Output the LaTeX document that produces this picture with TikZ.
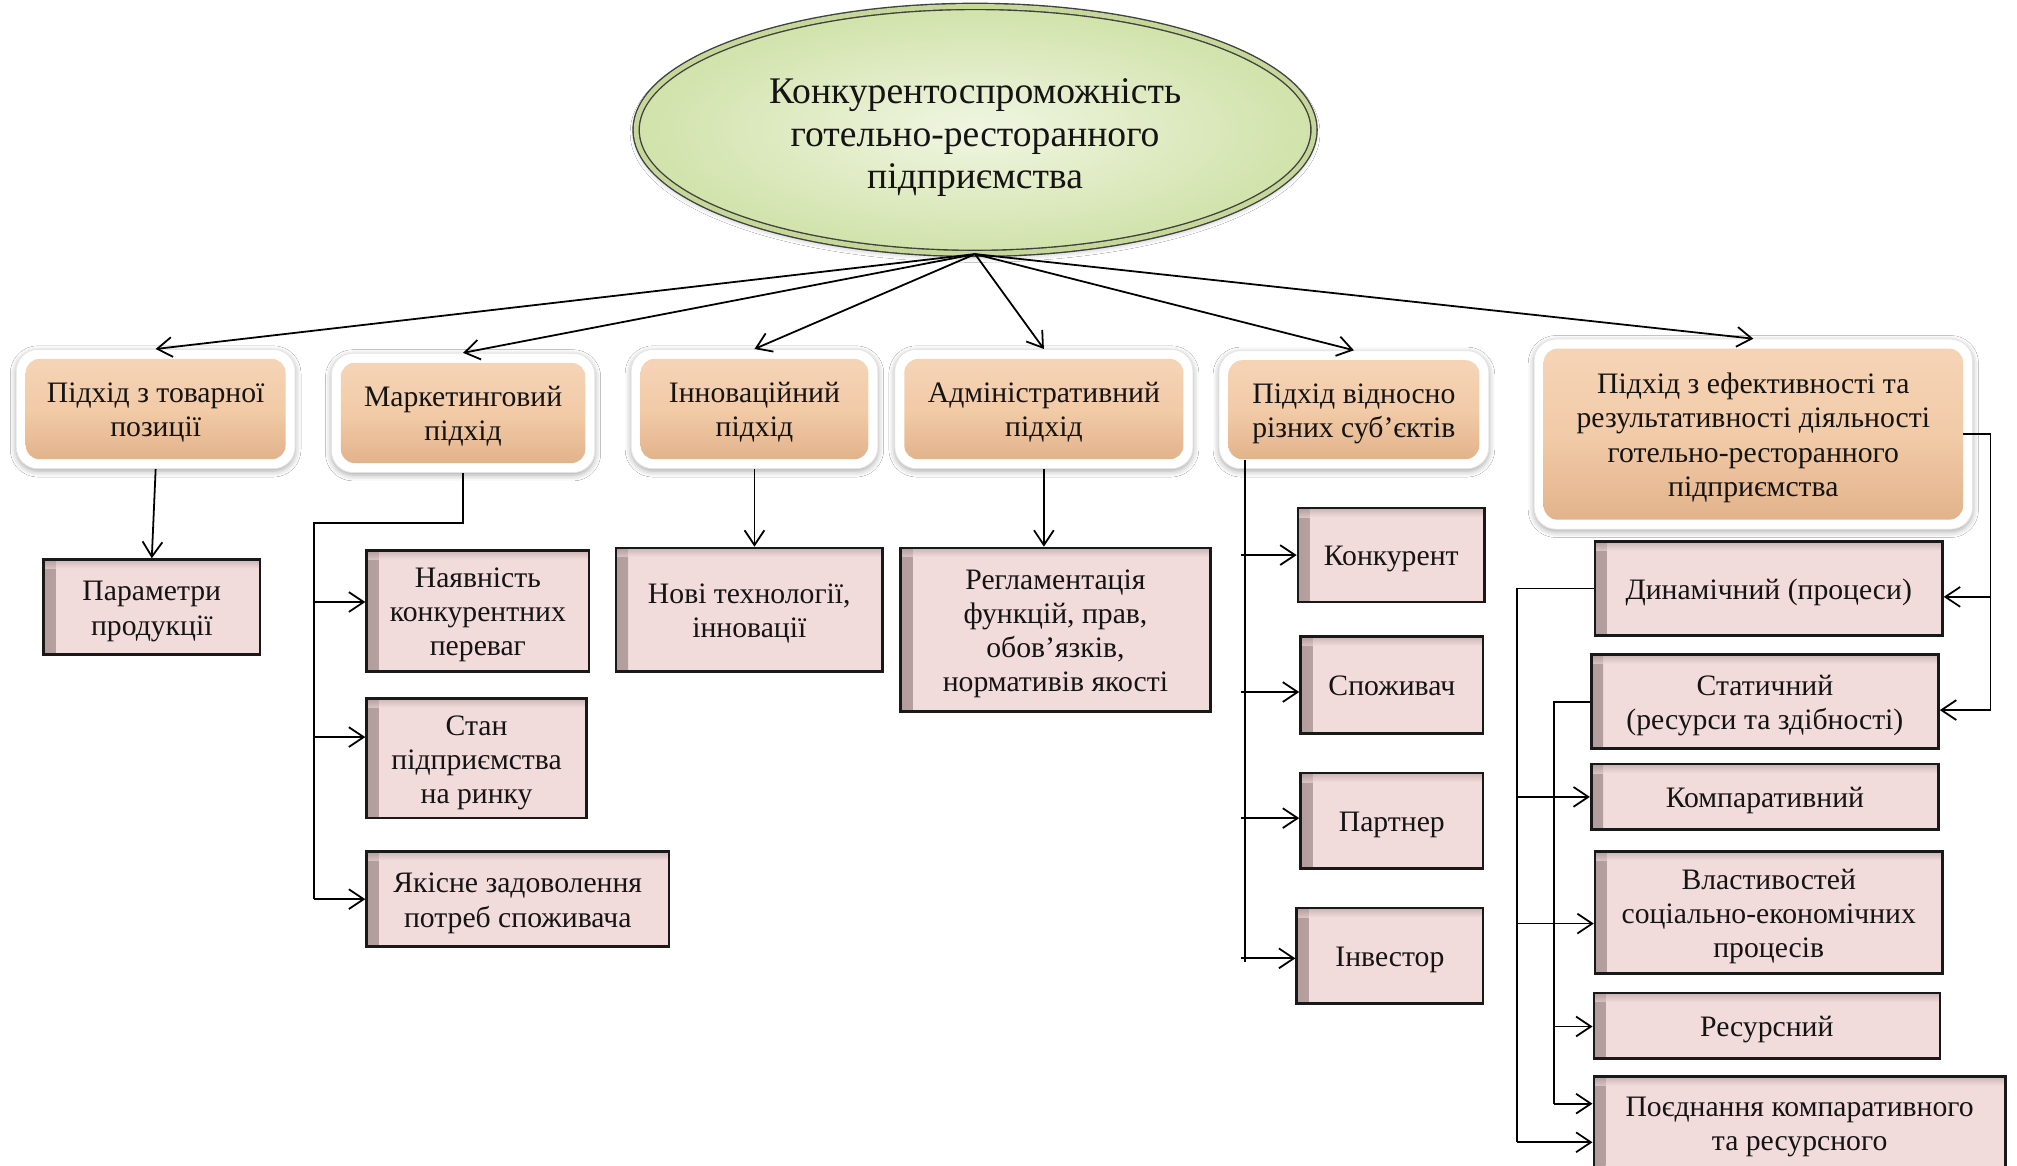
\documentclass[tikz,border=0pt]{standalone}
\usepackage{fontspec}
\setmainfont{Liberation Serif}
\usetikzlibrary{arrows.meta, shapes.geometric, fit, backgrounds, shadows.blur, calc}

\definecolor{peach}{HTML}{F2CBA8}
\definecolor{peachtop}{HTML}{F5D4B6}
\definecolor{peachbot}{HTML}{E2B38B}
\definecolor{rose}{HTML}{F2DCDB}
\definecolor{roseshade}{HTML}{B29C9C}
\definecolor{leafin}{HTML}{F0F6E2}
\definecolor{leafout}{HTML}{D1E2AA}
\definecolor{leafrim}{HTML}{C5D799}
\newcommand\un{0.65pt}
% line struts: word-processor style line boxes
\newcommand\tstr{\rule{0pt}{0.95em}}
\newcommand\bstr{\rule[-0.22em]{0pt}{0pt}}
\newcommand\hubstr{\rule{0pt}{1.08em}}

\begin{document}
\begin{tikzpicture}[x=0.65pt, y=-0.65pt,
  every node/.style={font=\fontsize{15}{17.2}\selectfont, align=center, text=black!92},
  lnk/.style={line width=0.9pt, black},
  arr/.style={lnk, -{Straight Barb[length=7.5pt, width=10pt, line width=0.9pt]}},
  approach/.style={rounded corners=7pt, top color=peachtop, bottom color=peachbot,
    middle color=peach, inner sep=0pt},
  rim/.style={rounded corners=11pt, fill=white, draw=black!10, line width=0.4pt,
    inner sep=4.6pt,
    blur shadow={shadow xshift=0pt, shadow yshift=-1.2pt, shadow blur radius=3pt,
      shadow opacity=35}},
  pinkbox/.style={draw=black!90, line width=1.3pt, fill=rose, inner sep=0pt,
    path picture={
      \shade[left color=roseshade, right color=rose]
        (path picture bounding box.north west) rectangle
        ([xshift=6pt]path picture bounding box.south west);
      \shade[top color=roseshade, bottom color=rose, opacity=0.6]
        (path picture bounding box.north west) rectangle
        ([yshift=-4.5pt]path picture bounding box.north east);
    }},
  hub/.style={ellipse, inner sep=0pt, inner color=leafin, outer color=leafout,
    draw=black!75, line width=0.7pt, double=leafrim, double distance=2.4pt,
    blur shadow={shadow xshift=0pt, shadow yshift=-1.5pt, shadow blur radius=3pt,
      shadow opacity=30},
    font=\fontsize{19}{21.5}\selectfont}
]
\useasboundingbox (0,0) rectangle (1568,906.4);
\clip (0,0) rectangle (1568,906.4);

% central concept
\node[hub, minimum width=527*\un, minimum height=192*\un] (E) at (758,101)
  {\hubstr Конкурентоспроможність\\готельно-ресторанного\\підприємства\bstr};

% approaches
\node[approach, minimum width=202*\un, minimum height=78*\un] (a1) at (121,318)
  {\tstr Підхід з товарної\\позиції\bstr};
\node[approach, minimum width=190*\un, minimum height=78*\un] (a2) at (360,321)
  {\tstr Маркетинговий\\підхід\bstr};
\node[approach, minimum width=177*\un, minimum height=78*\un] (a3) at (586.5,318)
  {\tstr Інноваційний\\підхід\bstr};
\node[approach, minimum width=217*\un, minimum height=78*\un] (a4) at (811.5,318)
  {\tstr Адміністративний\\підхід\bstr};
\node[approach, minimum width=195*\un, minimum height=77*\un] (a5) at (1052.5,318.5)
  {\tstr Підхід відносно\\різних суб’єктів\bstr};
\node[approach, minimum width=326*\un, minimum height=133*\un] (a6) at (1363,337.5)
  {\tstr Підхід з ефективності та\\результативності діяльності\\готельно-ресторанного\\підприємства\bstr};

\begin{pgfonlayer}{background}
  \fill[white] (0,0) rectangle (1568,906.4);
  \foreach \n in {1,...,6} \node[rim, fit=(a\n)] (ra\n) {};
\end{pgfonlayer}

% product position
\node[pinkbox, minimum width=168*\un, minimum height=74*\un] (b1) at (118,472)
  {\tstr Параметри\\продукції\bstr};

% marketing
\node[pinkbox, minimum width=173*\un, minimum height=94*\un] (b2) at (371.5,475)
  {\tstr Наявність\\конкурентних\\переваг\bstr};
\node[pinkbox, minimum width=171*\un, minimum height=93*\un] (b3) at (370.5,589.5)
  {\tstr Стан\\підприємства\\на ринку\bstr};
\node[pinkbox, minimum width=235*\un, minimum height=74*\un] (b4) at (402.5,699)
  {\tstr Якісне задоволення\\потреб споживача\bstr};

% innovation, administration
\node[pinkbox, minimum width=207*\un, minimum height=96*\un] (b5) at (582.5,474)
  {\tstr Нові технології,\\інновації\bstr};
\node[pinkbox, minimum width=241*\un, minimum height=127*\un] (b6) at (820.5,489.5)
  {\tstr Регламентація\\функцій, прав,\\обов’язків,\\нормативів якості\bstr};

% subjects
\node[pinkbox, minimum width=145*\un, minimum height=73*\un] (c1) at (1081.5,431.5) {\tstr Конкурент\bstr};
\node[pinkbox, minimum width=142*\un, minimum height=75*\un] (c2) at (1082,532.5) {\tstr Споживач\bstr};
\node[pinkbox, minimum width=142*\un, minimum height=74*\un] (c3) at (1082,638) {\tstr Партнер\bstr};
\node[pinkbox, minimum width=145*\un, minimum height=74*\un] (c4) at (1080.5,743) {\tstr Інвестор\bstr};

% efficiency and performance
\node[pinkbox, minimum width=270*\un, minimum height=73*\un] (d1) at (1375,457.5)
  {\tstr Динамічний (процеси)\bstr};
\node[pinkbox, minimum width=270*\un, minimum height=73*\un] (d2) at (1372,545.5)
  {\tstr Статичний\\(ресурси та здібності)\bstr};
\node[pinkbox, minimum width=270*\un, minimum height=51*\un] (d3) at (1372,619.5)
  {\tstr Компаративний\bstr};
\node[pinkbox, minimum width=270*\un, minimum height=95*\un] (d4) at (1375,709.5)
  {\tstr Властивостей\\соціально-економічних\\процесів\bstr};
\node[pinkbox, minimum width=269*\un, minimum height=51*\un] (d5) at (1373.5,797.5)
  {\tstr Ресурсний\bstr};
\node[pinkbox, minimum width=320*\un, minimum height=72*\un] (d6) at (1399,873)
  {\tstr Поєднання компаративного\\та ресурсного\bstr};

% links from the central concept
\foreach \n in {1,...,6} \draw[arr] (E.south) -- (ra\n.north);

% product position
\draw[arr] (ra1.south) -- (b1.north);

% marketing tree
\draw[lnk] (ra2.south) -- ++(0,39) coordinate (m1) -- (m1 -| 244,0) coordinate (m2)
  -- (m2 |- 0,699);
\draw[arr] (m2 |- 0,468) -- (b2.west |- 0,468);
\draw[arr] (m2 |- 0,573) -- (b3.west |- 0,573);
\draw[arr] (m2 |- b4.west) -- (b4.west);

% innovation, administration
\draw[arr] (ra3.south) -- (ra3.south |- b5.north);
\draw[arr] (ra4.south) -- (ra4.south |- b6.north);

% subjects tree
\draw[lnk] ($(a5.south west)+(13,0)$) coordinate (s5) -- (s5 |- 0,748);
\draw[arr] ($(s5 |- c1.west)+(-3,0)$) -- (c1.west);
\draw[arr] ($(s5 |- 0,538)+(-3,0)$) -- (c2.west |- 0,538);
\draw[arr] ($(s5 |- 0,636)+(-3,0)$) -- (c3.west |- 0,636);
\draw[arr] ($(s5 |- 0,745)+(-3,0)$) -- (c4.west |- 0,745);

% efficiency tree: right side
\draw[lnk] (a6.east) -- ++(21,0) coordinate (q1) -- (q1 |- 0,553);
\draw[arr] (q1 |- 0,464) -- (d1.east |- 0,464);
\draw[arr] (q1 |- 0,552) -- (d2.east |- 0,552);

% efficiency tree: outer left spine
\draw[lnk] (d1.west) -- (d1.west -| 1179,0) coordinate (o1) -- (o1 |- 0,888);
\draw[arr] (o1 |- d3.west) -- (d3.west);
\draw[arr] (o1 |- 0,718) -- (d4.west |- 0,718);
\draw[arr] (o1 |- 0,888) -- (d6.west |- 0,888);

% efficiency tree: inner left spine
\draw[lnk] (d2.west) -- (d2.west -| 1208,0) coordinate (i1) -- (i1 |- 0,858);
\draw[arr] (i1 |- 0,798) -- (d5.west |- 0,798);
\draw[arr] (i1 |- 0,858) -- (d6.west |- 0,858);
\end{tikzpicture}
\end{document}
